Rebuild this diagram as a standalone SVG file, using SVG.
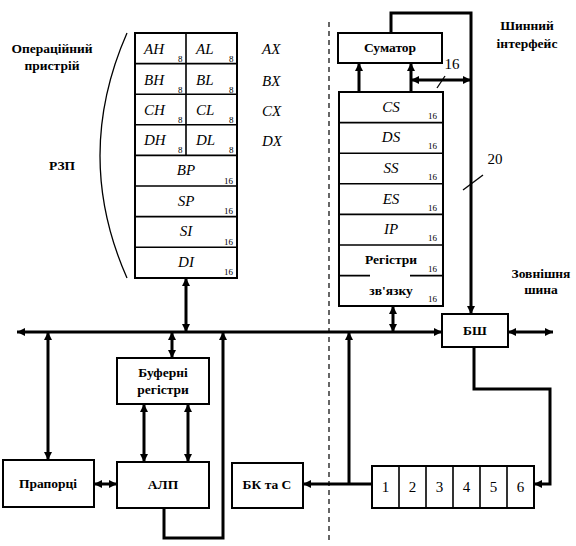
<svg xmlns="http://www.w3.org/2000/svg" width="576" height="546" viewBox="0 0 576 546">
<style>
.box{fill:#fff;stroke:#000;stroke-width:2}
.div{stroke:#000;stroke-width:1.6;fill:none}
.w{stroke:#000;stroke-width:3;fill:none}
.thin{stroke:#000;stroke-width:1.3;fill:none}
.lb{font-family:"Liberation Serif","DejaVu Serif",serif;font-weight:bold;font-size:13.5px;fill:#000}
.it{font-family:"Liberation Serif","DejaVu Serif",serif;font-style:italic;font-size:15px;fill:#000}
.sub{font-family:"Liberation Serif","DejaVu Serif",serif;font-size:9px;fill:#000}
.num{font-family:"Liberation Serif","DejaVu Serif",serif;font-size:15px;fill:#000}
</style>
<defs>
<marker id="ah" viewBox="0 0 10 10" refX="10" refY="5" markerWidth="8" markerHeight="8" markerUnits="userSpaceOnUse" orient="auto-start-reverse">
<path d="M0,0 L10,5 L0,10 z" fill="#000"/>
</marker>
</defs>

<g id="labels">
<text class="lb" x="52" y="53" text-anchor="middle">Операційний</text>
<text class="lb" x="52" y="70" text-anchor="middle">пристрій</text>
<text class="lb" x="62" y="170" text-anchor="middle">РЗП</text>
<text class="lb" x="527" y="30" text-anchor="middle">Шинний</text>
<text class="lb" x="527" y="48" text-anchor="middle">інтерфейс</text>
<text class="lb" x="541" y="278" text-anchor="middle">Зовнішня</text>
<text class="lb" x="541" y="294" text-anchor="middle">шина</text>
<text class="it" x="262" y="54">AX</text>
<text class="it" x="262" y="86">BX</text>
<text class="it" x="262" y="116">CX</text>
<text class="it" x="262" y="146">DX</text>
<text class="num" x="452" y="69" text-anchor="middle">16</text>
<text class="num" x="495" y="164" text-anchor="middle">20</text>
<path class="thin" d="M127,33 Q73,156 127,278"/>
<line x1="329" y1="22" x2="329" y2="540" stroke="#000" stroke-width="1.2" stroke-dasharray="5,4"/>
</g>

<g id="rzp">
<rect class="box" x="135" y="33" width="102" height="245"/>
<path class="div" d="M186,33V155.4 M135,63.6H237 M135,94.2H237 M135,124.8H237 M135,155.4H237 M135,186H237 M135,216.6H237 M135,247.2H237"/>
<text class="it" x="144" y="54">AH</text><text class="sub" x="178" y="62">8</text>
<text class="it" x="196" y="54">AL</text><text class="sub" x="229" y="62">8</text>
<text class="it" x="144" y="85">BH</text><text class="sub" x="178" y="93">8</text>
<text class="it" x="196" y="85">BL</text><text class="sub" x="229" y="93">8</text>
<text class="it" x="144" y="115">CH</text><text class="sub" x="178" y="123">8</text>
<text class="it" x="196" y="115">CL</text><text class="sub" x="229" y="123">8</text>
<text class="it" x="144" y="145">DH</text><text class="sub" x="178" y="153">8</text>
<text class="it" x="196" y="145">DL</text><text class="sub" x="229" y="153">8</text>
<text class="it" x="186" y="175" text-anchor="middle">BP</text><text class="sub" x="224" y="184">16</text>
<text class="it" x="186" y="206" text-anchor="middle">SP</text><text class="sub" x="224" y="214">16</text>
<text class="it" x="186" y="236" text-anchor="middle">SI</text><text class="sub" x="224" y="245">16</text>
<text class="it" x="186" y="267" text-anchor="middle">DI</text><text class="sub" x="224" y="275">16</text>
</g>

<g id="seg">
<rect class="box" x="339" y="92" width="104" height="214"/>
<path class="div" d="M339,122.6H443 M339,153.2H443 M339,183.8H443 M339,214.4H443 M339,245H443 M339,275.6H370 M410,275.6H443"/>
<text class="it" x="391" y="112" text-anchor="middle">CS</text><text class="sub" x="428" y="119">16</text>
<text class="it" x="391" y="142" text-anchor="middle">DS</text><text class="sub" x="428" y="149">16</text>
<text class="it" x="391" y="173" text-anchor="middle">SS</text><text class="sub" x="428" y="180">16</text>
<text class="it" x="391" y="204" text-anchor="middle">ES</text><text class="sub" x="428" y="211">16</text>
<text class="it" x="391" y="234" text-anchor="middle">IP</text><text class="sub" x="428" y="241">16</text>
<text class="lb" x="391" y="264" text-anchor="middle">Регістри</text><text class="sub" x="428" y="272">16</text>
<text class="lb" x="391" y="295" text-anchor="middle">зв'язку</text><text class="sub" x="428" y="302">16</text>
</g>

<g id="sumator">
<rect class="box" x="338" y="33" width="104" height="30"/>
<text class="lb" x="390" y="52" text-anchor="middle">Суматор</text>
</g>

<g id="bsh">
<rect class="box" x="442" y="314" width="66" height="33"/>
<text class="lb" x="475" y="335" text-anchor="middle">БШ</text>
</g>

<g id="buf">
<rect class="box" x="117" y="358" width="92" height="46"/>
<text class="lb" x="163" y="377" text-anchor="middle">Буферні</text>
<text class="lb" x="163" y="394" text-anchor="middle">регістри</text>
</g>

<g id="flags">
<rect class="box" x="3" y="460" width="91" height="47"/>
<text class="lb" x="48" y="488" text-anchor="middle">Прапорці</text>
</g>

<g id="alu">
<rect class="box" x="117" y="462" width="92" height="46"/>
<text class="lb" x="163" y="489" text-anchor="middle">АЛП</text>
</g>

<g id="bkc">
<rect class="box" x="232" y="463" width="71" height="45"/>
<text class="lb" x="267" y="489" text-anchor="middle">БК та С</text>
</g>

<g id="queue">
<rect class="box" x="372" y="466" width="162" height="42"/>
<path class="div" d="M399,466V508 M426,466V508 M453,466V508 M480,466V508 M507,466V508"/>
<text class="num" x="385.5" y="492" text-anchor="middle">1</text>
<text class="num" x="412.5" y="492" text-anchor="middle">2</text>
<text class="num" x="439.5" y="492" text-anchor="middle">3</text>
<text class="num" x="466.5" y="492" text-anchor="middle">4</text>
<text class="num" x="493.5" y="492" text-anchor="middle">5</text>
<text class="num" x="520.5" y="492" text-anchor="middle">6</text>
</g>

<g id="connectors">
<line class="w" x1="442" y1="332" x2="17" y2="332" marker-start="url(#ah)" marker-end="url(#ah)"/>
<line class="w" x1="186" y1="278" x2="186" y2="332" marker-start="url(#ah)" marker-end="url(#ah)"/>
<line class="w" x1="48" y1="332" x2="48" y2="460" marker-start="url(#ah)" marker-end="url(#ah)"/>
<line class="w" x1="172" y1="332" x2="172" y2="358" marker-start="url(#ah)" marker-end="url(#ah)"/>
<line class="w" x1="144" y1="404" x2="144" y2="462" marker-start="url(#ah)" marker-end="url(#ah)"/>
<line class="w" x1="188" y1="404" x2="188" y2="462" marker-start="url(#ah)" marker-end="url(#ah)"/>
<line class="w" x1="94" y1="484" x2="117" y2="484" marker-start="url(#ah)" marker-end="url(#ah)"/>
<polyline class="w" points="164,508 164,538 223,538 223,332" marker-end="url(#ah)"/>
<line class="w" x1="393" y1="306" x2="393" y2="332" marker-start="url(#ah)" marker-end="url(#ah)"/>
<line class="w" x1="372" y1="484" x2="303" y2="484" marker-end="url(#ah)"/>
<line class="w" x1="349" y1="484" x2="349" y2="332" marker-end="url(#ah)"/>
<polyline class="w" points="474,347 474,389 550,389 550,484 534,484" marker-end="url(#ah)"/>
<line class="w" x1="508" y1="332" x2="553" y2="332" marker-start="url(#ah)" marker-end="url(#ah)"/>
<polyline class="w" points="391,33 391,13 471,13 471,314" marker-end="url(#ah)"/>
<line class="w" x1="359" y1="92" x2="359" y2="63" marker-end="url(#ah)"/>
<line class="w" x1="411" y1="92" x2="411" y2="63" marker-end="url(#ah)"/>
<line class="w" x1="471" y1="80" x2="411" y2="80" marker-start="url(#ah)" marker-end="url(#ah)"/>
<line class="thin" x1="437" y1="88" x2="445" y2="76"/>
<line class="thin" x1="463" y1="190" x2="483" y2="175"/>
</g>
</svg>
